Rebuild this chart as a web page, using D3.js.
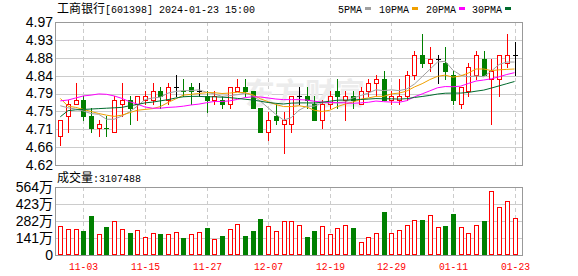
<!DOCTYPE html>
<html>
<head>
<meta charset="utf-8">
<script src="https://cdn.jsdelivr.net/npm/d3@7/dist/d3.min.js"></script>
<style>
  body { margin: 0; background: #fff; }
  svg { display: block; }
</style>
</head>
<body>
<svg id="chart" width="578" height="276"></svg>
<script>
// Trading days on the chart (2023-10-31 .. 2024-01-23)
var dates = ['10-31','11-01','11-02','11-03','11-06','11-07','11-08','11-09','11-10','11-13',
             '11-14','11-15','11-16','11-17','11-20','11-21','11-22','11-23','11-24','11-27',
             '11-28','11-29','11-30','12-01','12-04','12-05','12-06','12-07','12-08','12-11',
             '12-12','12-13','12-14','12-15','12-18','12-19','12-20','12-21','12-22','12-25',
             '12-26','12-27','12-28','12-29','01-02','01-03','01-04','01-05','01-08','01-09',
             '01-10','01-11','01-12','01-15','01-16','01-17','01-18','01-19','01-22','01-23'];

var opens  = [4.69,4.74,4.77,4.78,4.74,4.71,4.71,4.70,4.77,4.78,
              4.77,4.78,4.78,4.80,4.78,4.81,4.80,4.81,4.80,4.79,
              4.78,4.78,4.77,4.80,4.81,4.80,4.76,4.70,4.74,4.72,
              4.72,4.79,4.79,4.77,4.73,4.77,4.80,4.78,4.79,4.77,
              4.80,4.82,4.83,4.78,4.78,4.79,4.84,4.89,4.87,4.88,
              4.87,4.84,4.77,4.80,4.84,4.88,4.83,4.83,4.87,4.89];
var highs  = [4.73,4.78,4.82,4.79,4.76,4.73,4.74,4.79,4.82,4.79,
              4.79,4.80,4.82,4.81,4.82,4.84,4.83,4.82,4.82,4.80,
              4.80,4.79,4.81,4.83,4.83,4.80,4.76,4.75,4.77,4.75,
              4.79,4.81,4.81,4.79,4.78,4.80,4.83,4.80,4.80,4.81,
              4.83,4.84,4.85,4.80,4.83,4.85,4.90,4.94,4.91,4.89,
              4.91,4.85,4.81,4.87,4.90,4.90,4.88,4.89,4.94,4.92];
var lows   = [4.67,4.70,4.77,4.73,4.70,4.69,4.69,4.70,4.74,4.72,
              4.73,4.77,4.77,4.76,4.77,4.79,4.79,4.77,4.79,4.75,
              4.77,4.76,4.76,4.80,4.79,4.76,4.70,4.68,4.72,4.65,
              4.70,4.77,4.76,4.73,4.71,4.76,4.76,4.73,4.76,4.77,
              4.79,4.79,4.78,4.77,4.77,4.78,4.83,4.86,4.85,4.82,
              4.83,4.77,4.76,4.79,4.83,4.84,4.72,4.79,4.86,4.84];
var closes = [4.73,4.77,4.78,4.74,4.71,4.72,4.71,4.78,4.78,4.76,
              4.79,4.79,4.80,4.79,4.81,4.81,4.80,4.80,4.80,4.78,
              4.79,4.77,4.81,4.81,4.80,4.76,4.70,4.73,4.73,4.73,
              4.79,4.79,4.78,4.73,4.77,4.79,4.79,4.79,4.78,4.80,
              4.82,4.83,4.78,4.79,4.79,4.84,4.89,4.87,4.88,4.88,
              4.85,4.78,4.81,4.86,4.89,4.84,4.85,4.89,4.89,4.89];

// volume in 万手
var volumes = [240,213,213,199,323,174,232,280,213,185,
               205,147,180,174,174,191,141,174,192,221,
               130,158,213,254,158,199,296,240,199,282,
               282,249,149,199,240,174,221,246,224,108,
               147,182,357,180,205,246,288,288,329,230,
               240,340,230,180,246,280,528,396,445,310.7488];

// moving average values before a full window exists
var ma5Head  = [4.765,4.760,4.757,4.752];
var ma10Head = [4.783,4.764,4.761,4.756,4.751,4.746,4.742,4.739,4.742];
var ma20Head = [4.777,4.779,4.784,4.789,4.791,4.794,4.793,4.789,4.783,4.775,
                4.769,4.762,4.759,4.759,4.761,4.762,4.764,4.767,4.769];
var ma30Head = [4.738,4.753,4.755,4.756,4.757,4.758,4.759,4.760,4.761,4.765,
                4.768,4.772,4.774,4.777,4.780,4.784,4.787,4.788,4.788,4.787,
                4.787,4.786,4.785,4.783,4.781,4.779,4.776,4.773,4.771];

var maNames   = ['5PMA','10PMA','20PMA','30PMA'];
var maPeriods = [5, 10, 20, 30];
var maHeads   = [ma5Head, ma10Head, ma20Head, ma30Head];

var priceTicks  = ['4.62','4.66','4.71','4.75','4.79','4.84','4.88','4.93','4.97'];
var volumeTicks = ['0','141万','282万','423万','564万'];
var labelDates  = ['11-03','11-15','11-27','12-07','12-19','12-29','01-11','01-23'];

var stockName = '工商银行';
var stockCode = '[601398] 2024-01-23 15:00';

// ---- drawing ----
var RED = '#ff0000', GREEN = '#008000';
var maColors = ['#a0a0a0', '#f0a000', '#ff00ff', '#006b2d'];
var left = 55, right = 522;
var svg = d3.select('#chart');

var x  = d3.scaleLinear().domain([0, dates.length - 1]).range([60.3, 514.5]);
var y  = d3.scaleLinear().domain([4.62, 4.97]).range([165, 22]);
var yv = d3.scaleLinear().domain([0, 564]).range([255, 187]);
var yTick = d3.scaleLinear().domain([0, priceTicks.length - 1]).range([165, 22]);

function px(v) { return Math.round(v) + 0.5; }
function cxOf(i) { return Math.round(x(i)); }

function movingAvg(n, head) {
  return closes.map(function(c, i) {
    if (i < n - 1) return head[i];
    return d3.mean(closes.slice(i - n + 1, i + 1));
  });
}

function candleColor(i) {
  var d = closes[i] - opens[i];
  if (Math.abs(d) < 1e-9) {
    if (i === 0) return '#000';
    d = closes[i] - closes[i - 1];
    if (Math.abs(d) < 1e-9) return '#000';
  }
  return d > 0 ? RED : GREEN;
}

function volumeUp(i) {
  if (i === 0) return closes[0] >= opens[0];
  return closes[i] >= closes[i - 1] - 1e-9;
}

var grid = svg.append('g').attr('shape-rendering', 'crispEdges');
var tickIdx = labelDates.map(function(d) { return dates.indexOf(d); });

// horizontal grid, price panel
grid.selectAll('.hp').data(priceTicks).enter().append('line')
    .attr('x1', left).attr('x2', right)
    .attr('y1', function(d, k) { return px(yTick(k)); })
    .attr('y2', function(d, k) { return px(yTick(k)); })
    .attr('stroke', function(d, k) { return (k === 0 || k === priceTicks.length - 1) ? '#999' : '#ccc'; });

// horizontal grid, volume panel
grid.selectAll('.hv').data(volumeTicks).enter().append('line')
    .attr('x1', left).attr('x2', right)
    .attr('y1', function(d, k) { return px(yv(k * 141)); })
    .attr('y2', function(d, k) { return px(yv(k * 141)); })
    .attr('stroke', function(d, k) { return (k === 0 || k === volumeTicks.length - 1) ? '#999' : '#ccc'; });

// vertical dashed grid
tickIdx.forEach(function(i) {
  [[22, 165], [187, 255]].forEach(function(r) {
    grid.append('line')
        .attr('x1', cxOf(i) + 0.5).attr('x2', cxOf(i) + 0.5)
        .attr('y1', r[0]).attr('y2', r[1])
        .attr('stroke', '#ccc').attr('stroke-dasharray', '4,3');
  });
});

// panel borders
[[22, 165], [187, 255]].forEach(function(r) {
  grid.append('rect')
      .attr('x', left + 0.5).attr('y', r[0] + 0.5)
      .attr('width', right - left).attr('height', r[1] - r[0])
      .attr('fill', 'none').attr('stroke', '#999');
});

// watermark
svg.append('text')
   .attr('x', 245).attr('y', 104)
   .attr('font-family', 'Noto Sans CJK SC').attr('font-size', 30).attr('font-weight', 'bold')
   .attr('fill', '#ececec')
   .text('东方财富');

// candles
var candles = svg.append('g').attr('shape-rendering', 'crispEdges');
dates.forEach(function(d, i) {
  var cx = cxOf(i), col = candleColor(i);
  var top = Math.round(y(Math.max(opens[i], closes[i])));
  var bot = Math.round(y(Math.min(opens[i], closes[i])));
  var hi = Math.round(y(highs[i])), lo = Math.round(y(lows[i]));
  if (bot - top < 1) {
    candles.append('line').attr('x1', cx + 0.5).attr('x2', cx + 0.5)
           .attr('y1', hi).attr('y2', lo + 1).attr('stroke', col);
    candles.append('line').attr('x1', cx - 2).attr('x2', cx + 3)
           .attr('y1', top + 0.5).attr('y2', top + 0.5).attr('stroke', col);
    return;
  }
  if (hi < top) candles.append('line').attr('x1', cx + 0.5).attr('x2', cx + 0.5)
                       .attr('y1', hi).attr('y2', top).attr('stroke', col);
  if (lo > bot) candles.append('line').attr('x1', cx + 0.5).attr('x2', cx + 0.5)
                       .attr('y1', bot).attr('y2', lo + 1).attr('stroke', col);
  if (col === RED) {
    candles.append('rect').attr('x', cx - 1.5).attr('y', top + 0.5)
           .attr('width', 4).attr('height', bot - top)
           .attr('fill', '#fff').attr('stroke', RED);
  } else {
    candles.append('rect').attr('x', cx - 2).attr('y', top)
           .attr('width', 5).attr('height', bot - top + 1)
           .attr('fill', col);
  }
});

// moving averages
var line = d3.line().x(function(v, i) { return x(i); }).y(function(v) { return y(v); });
maPeriods.forEach(function(n, k) {
  svg.append('path')
     .datum(movingAvg(n, maHeads[k]))
     .attr('d', line)
     .attr('fill', 'none').attr('stroke', maColors[k]).attr('stroke-width', 1);
});

// volume bars
var vol = svg.append('g').attr('shape-rendering', 'crispEdges');
volumes.forEach(function(v, i) {
  var cx = cxOf(i), top = Math.round(yv(v));
  if (volumeUp(i)) {
    vol.append('rect').attr('x', cx - 1.5).attr('y', top + 0.5)
       .attr('width', 4).attr('height', 254 - top)
       .attr('fill', '#fff').attr('stroke', RED);
  } else {
    vol.append('rect').attr('x', cx - 2).attr('y', top)
       .attr('width', 5).attr('height', 255 - top)
       .attr('fill', GREEN);
  }
});

// axis labels
var sans = 'Liberation Sans, Arial, sans-serif';
var mono = 'Liberation Mono, monospace';
svg.selectAll('.pt').data(priceTicks).enter().append('text')
   .attr('x', 53).attr('y', function(d, k) { return yTick(k); })
   .attr('dy', '0.35em').attr('text-anchor', 'end')
   .attr('font-family', sans).attr('font-size', 14).attr('fill', '#000')
   .text(function(d) { return d; });

svg.selectAll('.vt').data(volumeTicks).enter().append('text')
   .attr('x', 53).attr('y', function(d, k) { return yv(k * 141); })
   .attr('dy', '0.35em').attr('text-anchor', 'end')
   .attr('font-family', sans + ', Noto Sans CJK SC').attr('font-size', 14).attr('fill', '#000')
   .text(function(d) { return d; });

svg.selectAll('.xt').data(tickIdx).enter().append('text')
   .attr('x', function(i) { return cxOf(i) + 0.5; }).attr('y', 270)
   .attr('text-anchor', 'middle')
   .attr('font-family', mono).attr('font-size', 11).attr('fill', RED)
   .attr('textLength', 29).attr('lengthAdjust', 'spacingAndGlyphs')
   .text(function(i) { return dates[i]; });

// header
svg.append('text').attr('x', 57).attr('y', 13)
   .attr('font-family', 'Noto Sans CJK SC').attr('font-size', 12).attr('fill', '#000')
   .text(stockName);
svg.append('text').attr('x', 105).attr('y', 13)
   .attr('font-family', mono).attr('font-size', 11).attr('fill', '#000')
   .attr('textLength', 150).attr('lengthAdjust', 'spacingAndGlyphs')
   .text(stockCode);

// legend
var legendX = [338, 379, 426, 472];
maNames.forEach(function(name, k) {
  var w = name.length * 6;
  svg.append('text').attr('x', legendX[k]).attr('y', 13)
     .attr('font-family', mono).attr('font-size', 11).attr('fill', '#000')
     .attr('textLength', w).attr('lengthAdjust', 'spacingAndGlyphs')
     .text(name);
  svg.append('rect').attr('x', legendX[k] + w + 3).attr('y', 7)
     .attr('width', 6).attr('height', 3).attr('fill', maColors[k]);
});

// volume title
svg.append('text').attr('x', 57).attr('y', 182)
   .attr('font-family', 'Noto Sans CJK SC').attr('font-size', 12).attr('fill', '#000')
   .text('成交量');
svg.append('text').attr('x', 93).attr('y', 182)
   .attr('font-family', mono).attr('font-size', 11).attr('fill', '#000')
   .attr('textLength', 48).attr('lengthAdjust', 'spacingAndGlyphs')
   .text(':' + Math.round(volumes[volumes.length - 1] * 10000));
</script>
</body>
</html>
